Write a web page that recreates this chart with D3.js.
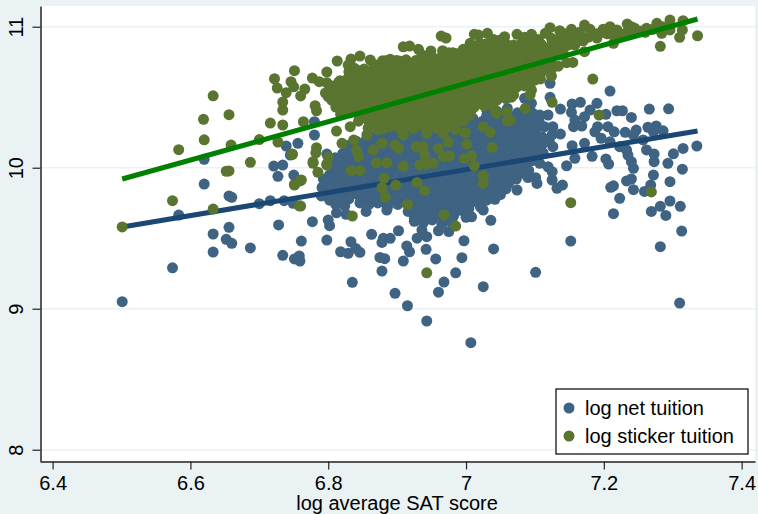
<!DOCTYPE html>
<html>
<head>
<meta charset="utf-8">
<script src="https://d3js.org/d3.v7.min.js"></script>
<style>
  html, body { margin: 0; padding: 0; background: #eaf2f3; }
  svg { display: block; }
  text { font-family: "Liberation Sans", Arial, sans-serif; fill: #000; }
</style>
</head>
<body>
<div id="chart"></div>
<script>
// values: [log average SAT, log tuition]
const xTicks = [6.4, 6.6, 6.8, 7, 7.2, 7.4];
const yTicks = [8, 9, 10, 11];
const legendLabels = ["log net tuition", "log sticker tuition"];

const fitSat = [6.501, 7.336];
const netFit = [9.58, 10.26];
const stickerFit = [9.92, 11.055];

const netPoints = [
  // left side and outliers
  [6.501,9.05],[6.574,9.29],[6.583,9.664],[6.62,10.06],[6.62,9.884],[6.633,9.53],[6.633,9.402],[6.656,9.577],
  [6.652,9.492],[6.66,9.464],[6.656,9.80],[6.66,9.79],[6.687,9.431],[6.70,9.745],[6.716,9.766],[6.736,9.766],
  [6.749,9.748],[6.728,9.594],[6.761,9.48],[6.734,9.379],[6.751,9.353],[6.758,9.374],[6.759,9.338],[6.721,10.012],
  [6.734,10.019],[6.727,9.939],[6.75,9.948],[6.739,10.154],[6.756,10.173],[6.745,10.09],[6.78,10.232],[6.78,10.326],
  [6.798,10.097],[6.798,9.487],[6.777,9.617],[6.802,9.589],[6.80,9.629],[6.833,9.475],[6.818,9.404],[6.829,9.393],
  [6.84,9.428],[6.846,9.40],[6.835,9.187],[6.863,9.528],[6.878,9.47],[6.88,9.499],[6.89,9.499],[6.902,9.553],
  [6.875,9.364],[6.882,9.355],[6.878,9.267],[6.909,9.338],[6.914,9.445],[6.918,9.404],[6.897,9.109],[6.915,9.021],
  [6.943,8.913],[7.007,8.759],[6.96,9.117],[6.968,9.189],[6.985,9.255],[6.956,9.353],[6.942,9.421],[6.994,9.362],
  [6.997,9.482],[7.025,9.156],[7.04,9.424],[7.036,9.627],[7.025,9.70],[7.042,9.776],[6.929,9.50],[6.943,9.511],
  [6.96,9.553],[6.975,9.547],[7.008,9.652],[7.0,9.648],[6.936,9.558],
  // right side
  [7.152,9.48],[7.101,9.258],[7.31,9.04],[7.282,9.44],[7.313,9.551],[7.214,9.674],[7.223,9.783],[7.269,9.69],
  [7.282,9.726],[7.296,9.764],[7.311,9.726],[7.29,9.662],[7.243,9.844],[7.259,9.832],[7.268,9.877],[7.296,9.901],
  [7.272,9.948],[7.314,9.99],[7.293,10.031],[7.273,10.043],[7.273,10.097],[7.301,10.099],[7.315,10.137],[7.335,10.154],
  [7.262,10.126],[7.21,9.861],[7.214,9.872],[7.233,9.906],[7.24,9.92],[7.243,9.996],[7.24,10.043],[7.235,10.09],
  [7.203,10.062],[7.207,10.026],[7.183,10.081],[7.172,10.173],[7.154,10.156],[7.146,10.014],[7.14,9.877],[7.132,9.854],
  [7.125,9.913],[7.101,9.929],[7.103,9.889],[7.074,9.842],[7.125,9.972],[7.137,10.239],[7.209,10.544],[7.122,10.599],
  [7.122,10.499],[7.137,10.416],[7.154,10.452],[7.166,10.464],[7.19,10.457],[7.153,10.393],[7.18,10.409],[7.172,10.362],
  [7.158,10.338],[7.156,10.291],[7.168,10.296],[7.203,10.379],[7.219,10.404],[7.227,10.404],[7.24,10.357],[7.266,10.416],
  [7.294,10.418],[7.206,10.291],[7.191,10.291],[7.187,10.255],[7.196,10.209],[7.215,10.255],[7.231,10.251],[7.247,10.267],
  [7.243,10.232],[7.264,10.287],[7.276,10.296],[7.272,10.255],[7.286,10.262],[7.257,10.197],[7.209,10.184],[7.223,10.149],
  [7.233,10.126],[7.158,10.067],[7.126,10.291],[7.114,10.291],[7.119,10.374],[7.107,10.374],[7.085,10.492],[7.095,10.457],
  [7.097,10.386],[7.078,10.338],[7.092,10.326],[7.087,10.28],[7.074,10.267],[7.102,10.28],[7.121,10.184],[7.126,10.149],
  [7.1,10.184],[7.097,10.149],[7.075,10.149],[7.069,10.113],[7.093,10.078],[7.107,10.031],[7.119,10.007],[7.083,10.007],
  [7.112,10.104],[7.11,10.22],[7.125,10.235],[7.105,10.12],[7.088,10.05],[7.075,9.97],[7.09,9.93],[7.06,9.88],
  // dense core
  [7.03,10.41],[7.045,10.40],[7.06,10.42],[7.075,10.39],[7.09,10.40],
  [6.997,10.34],[7.01,10.35],[7.024,10.33],[7.038,10.34],[7.051,10.35],[7.065,10.33],[7.078,10.34],[7.09,10.35],[7.106,10.33],
  [7.03,10.37],[7.044,10.37],[7.058,10.38],[7.072,10.37],[7.086,10.37],[7.1,10.36],
  [6.96,10.31],[6.974,10.31],[6.988,10.32],[7.002,10.31],[7.016,10.31],[7.03,10.30],[7.044,10.31],[7.058,10.31],[7.072,10.30],[7.086,10.31],[7.1,10.31],
  [6.93,10.28],[6.944,10.29],[6.957,10.27],[6.97,10.28],[6.983,10.29],[6.996,10.27],[7.01,10.28],[7.023,10.29],[7.036,10.27],[7.05,10.28],[7.063,10.29],[7.076,10.27],[7.09,10.28],
  [6.875,10.25],[6.889,10.25],[6.903,10.26],[6.917,10.25],[6.931,10.25],[6.945,10.24],[6.959,10.25],[6.973,10.25],[6.987,10.26],[7.001,10.25],[7.015,10.25],[7.029,10.24],[7.043,10.25],[7.057,10.25],[7.071,10.26],[7.085,10.25],[7.099,10.25],
  [6.866,10.22],[6.88,10.23],[6.893,10.21],[6.906,10.22],[6.92,10.23],[6.933,10.21],[6.946,10.22],[6.96,10.23],[6.973,10.21],[6.986,10.22],[7.0,10.23],[7.013,10.21],[7.026,10.22],[7.04,10.23],[7.053,10.21],[7.066,10.22],[7.08,10.23],[7.093,10.21],[7.106,10.22],
  [6.84,10.19],[6.854,10.19],[6.868,10.20],[6.882,10.19],[6.896,10.19],[6.91,10.18],[6.924,10.19],[6.938,10.19],[6.952,10.20],[6.966,10.19],[6.98,10.19],[6.994,10.18],[7.008,10.19],[7.022,10.19],[7.036,10.20],[7.05,10.19],[7.064,10.19],[7.078,10.18],[7.092,10.19],[7.106,10.19],
  [6.83,10.16],[6.844,10.17],[6.857,10.15],[6.87,10.16],[6.884,10.17],[6.897,10.15],[6.91,10.16],[6.924,10.17],[6.937,10.15],[6.95,10.16],[6.964,10.17],[6.977,10.15],[6.99,10.16],[7.004,10.17],[7.017,10.15],[7.03,10.16],[7.044,10.17],[7.057,10.15],[7.07,10.16],[7.084,10.17],[7.097,10.15],[7.11,10.16],
  [6.826,10.13],[6.84,10.13],[6.854,10.14],[6.868,10.13],[6.882,10.13],[6.896,10.12],[6.91,10.13],[6.924,10.13],[6.938,10.14],[6.952,10.13],[6.966,10.13],[6.98,10.12],[6.994,10.13],[7.008,10.13],[7.022,10.14],[7.036,10.13],[7.05,10.13],[7.064,10.12],[7.078,10.13],[7.092,10.13],[7.106,10.13],
  [6.821,10.10],[6.834,10.11],[6.848,10.09],[6.861,10.10],[6.874,10.11],[6.888,10.09],[6.901,10.10],[6.914,10.11],[6.928,10.09],[6.941,10.10],[6.954,10.11],[6.968,10.09],[6.981,10.10],[6.994,10.11],[7.008,10.09],[7.021,10.10],[7.034,10.11],[7.048,10.09],[7.061,10.10],[7.074,10.11],[7.088,10.09],[7.101,10.10],
  [6.81,10.07],[6.824,10.07],[6.838,10.08],[6.852,10.07],[6.866,10.07],[6.88,10.06],[6.894,10.07],[6.908,10.07],[6.922,10.08],[6.936,10.07],[6.95,10.07],[6.964,10.06],[6.978,10.07],[6.992,10.07],[7.006,10.08],[7.02,10.07],[7.034,10.07],[7.048,10.06],[7.062,10.07],[7.076,10.07],[7.09,10.08],[7.104,10.07],
  [6.803,10.04],[6.816,10.05],[6.83,10.03],[6.843,10.04],[6.856,10.05],[6.87,10.03],[6.883,10.04],[6.896,10.05],[6.91,10.03],[6.923,10.04],[6.936,10.05],[6.95,10.03],[6.963,10.04],[6.976,10.05],[6.99,10.03],[7.003,10.04],[7.016,10.05],[7.03,10.03],[7.043,10.04],[7.056,10.05],[7.07,10.03],[7.083,10.04],[7.096,10.05],
  [6.806,10.01],[6.82,10.01],[6.834,10.02],[6.848,10.01],[6.862,10.01],[6.876,10.0],[6.89,10.01],[6.904,10.01],[6.918,10.02],[6.932,10.01],[6.946,10.01],[6.96,10.0],[6.974,10.01],[6.988,10.01],[7.002,10.02],[7.016,10.01],[7.03,10.01],[7.044,10.0],[7.058,10.01],[7.072,10.01],[7.086,10.02],
  [6.811,9.98],[6.824,9.99],[6.838,9.97],[6.851,9.98],[6.864,9.99],[6.878,9.97],[6.891,9.98],[6.904,9.99],[6.918,9.97],[6.931,9.98],[6.944,9.99],[6.958,9.97],[6.971,9.98],[6.984,9.99],[6.998,9.97],[7.011,9.98],[7.024,9.99],[7.038,9.97],[7.051,9.98],[7.064,9.99],[7.078,9.97],[7.091,9.98],
  [6.802,9.95],[6.816,9.95],[6.83,9.96],[6.844,9.95],[6.858,9.95],[6.872,9.94],[6.886,9.95],[6.9,9.95],[6.914,9.96],[6.928,9.95],[6.942,9.95],[6.956,9.94],[6.97,9.95],[6.984,9.95],[6.998,9.96],[7.012,9.95],[7.026,9.95],[7.04,9.94],[7.054,9.95],[7.068,9.95],[7.082,9.96],
  [6.793,9.92],[6.806,9.93],[6.82,9.91],[6.833,9.92],[6.846,9.93],[6.86,9.91],[6.873,9.92],[6.886,9.93],[6.9,9.91],[6.913,9.92],[6.926,9.93],[6.94,9.91],[6.953,9.92],[6.966,9.93],[6.98,9.91],[6.993,9.92],[7.006,9.93],[7.02,9.91],[7.033,9.92],[7.046,9.93],[7.06,9.91],[7.073,9.92],
  [6.796,9.89],[6.81,9.89],[6.824,9.90],[6.838,9.89],[6.852,9.89],[6.866,9.88],[6.88,9.89],[6.894,9.89],[6.908,9.90],[6.922,9.89],[6.936,9.89],[6.95,9.88],[6.964,9.89],[6.978,9.89],[6.992,9.90],[7.006,9.89],[7.02,9.89],[7.034,9.88],[7.048,9.89],[7.062,9.89],
  [6.791,9.86],[6.804,9.87],[6.818,9.85],[6.831,9.86],[6.844,9.87],[6.858,9.85],[6.871,9.86],[6.884,9.87],[6.898,9.85],[6.911,9.86],[6.924,9.87],[6.938,9.85],[6.951,9.86],[6.964,9.87],[6.978,9.85],[6.991,9.86],[7.004,9.87],[7.018,9.85],[7.031,9.86],[7.044,9.87],[7.058,9.85],
  [6.798,9.83],[6.812,9.83],[6.826,9.84],[6.84,9.83],[6.854,9.83],[6.868,9.82],[6.882,9.83],[6.896,9.83],[6.91,9.84],[6.924,9.83],[6.938,9.83],[6.952,9.82],[6.966,9.83],[6.98,9.83],[6.994,9.84],[7.008,9.83],[7.022,9.83],[7.036,9.82],[7.05,9.83],
  [6.79,9.80],[6.803,9.81],[6.817,9.79],[6.83,9.80],[6.843,9.81],[6.857,9.79],[6.87,9.80],[6.883,9.81],[6.897,9.79],[6.91,9.80],[6.923,9.81],[6.937,9.79],[6.95,9.80],[6.963,9.81],[6.977,9.79],[6.99,9.80],[7.003,9.81],[7.017,9.79],[7.03,9.80],[7.05,9.81],
  [6.802,9.77],[6.816,9.77],[6.83,9.78],[6.848,9.77],[6.862,9.77],[6.876,9.76],[6.89,9.77],[6.904,9.77],[6.918,9.78],[6.932,9.77],[6.946,9.77],[6.96,9.76],[6.974,9.77],[6.988,9.77],[7.002,9.78],[7.016,9.77],[7.03,9.77],
  [6.811,9.74],[6.824,9.73],[6.846,9.75],[6.859,9.74],[6.872,9.75],[6.886,9.72],[6.901,9.74],[6.914,9.75],[6.927,9.73],[6.941,9.72],[6.954,9.74],[6.967,9.75],[6.981,9.72],[6.994,9.74],[7.007,9.75],[7.021,9.72],
  [6.92,9.71],[6.934,9.70],[6.948,9.71],[6.962,9.70],[6.976,9.71],[6.99,9.70],[7.004,9.71],
  [6.812,9.68],[6.826,9.67],[6.855,9.69],[6.885,9.70],[6.916,9.69],[6.929,9.66],[6.942,9.68],[6.955,9.67],[6.968,9.68],[6.982,9.66],[6.997,9.69],
  [6.925,9.64],[6.938,9.64],[6.952,9.65],[6.966,9.64],[6.98,9.64],
  [6.925,9.62],[6.938,9.61],[6.951,9.63],[6.965,9.60],[6.978,9.62]
];

const stickerPoints = [
  // left side
  [6.501,9.58],[6.574,9.766],[6.583,10.128],[6.62,10.198],[6.633,10.51],[6.619,10.343],[6.656,10.376],[6.659,10.161],
  [6.687,10.038],[6.652,9.975],[6.656,9.977],[6.70,10.20],[6.716,10.317],[6.722,10.631],[6.726,10.565],[6.734,10.466],
  [6.734,10.409],[6.734,10.303],[6.727,10.182],[6.633,9.707],[6.748,10.097],[6.751,9.877],[6.759,9.906],[6.758,9.73],
  [6.751,10.688],[6.746,10.61],[6.739,10.532],[6.75,10.574],[6.76,10.509],[6.766,10.558],[6.777,10.636],[6.787,10.61],
  [6.798,10.679],[6.798,10.603],[6.781,10.44],[6.783,10.404],[6.764,10.326],[6.813,10.757],[6.817,10.617],[6.833,10.771],
  [6.829,10.728],[6.846,10.792],[6.861,10.764],[6.879,10.759],[6.89,10.769],[6.903,10.757],[6.919,10.733],[6.909,10.858],
  [6.918,10.863],[6.931,10.84],[6.936,10.80],[6.949,10.828],[6.964,10.934],[6.971,10.92],[6.966,10.83],[6.981,10.816],
  [6.996,10.823],[7.006,10.882],[7.012,10.946],[7.018,10.941],[7.031,10.953],[7.02,10.882],[7.04,10.91],[7.056,10.929],
  [7.05,10.906],[7.074,10.946],[7.069,10.87],
  // top right band
  [7.095,10.946],[7.085,10.925],[7.122,10.993],[7.115,10.953],[7.136,10.972],[7.136,10.918],[7.124,10.918],[7.153,10.982],
  [7.172,11.012],[7.158,10.929],[7.18,10.982],[7.177,10.925],[7.199,10.982],[7.209,11.0],[7.219,10.977],[7.234,11.019],
  [7.231,10.953],[7.245,10.989],[7.262,10.989],[7.277,11.024],[7.296,11.047],[7.315,11.043],[7.284,10.953],[7.296,10.977],
  [7.314,10.977],[7.31,10.925],[7.336,10.936],[7.282,10.861],[7.184,10.629],[7.214,10.882],[7.172,10.823],[7.158,10.87],
  [7.141,10.835],[7.146,10.745],[7.155,10.747],[7.124,10.698],[7.124,10.65],[7.193,10.374],[7.125,10.464],[7.086,10.421],
  [7.064,10.338],[7.1,10.622],[7.083,10.622],[7.095,10.551],[7.093,10.516],[7.069,10.516],[7.074,10.574],
  [7.145,10.95],[7.165,10.96],[7.19,10.95],[7.205,10.95],[7.24,11.0],[7.255,10.97],[7.27,10.98],[7.285,11.0],[7.26,10.96],
  [7.105,10.91],[7.14,10.89],[7.15,10.91],[7.17,10.90],[7.19,10.92],[7.22,10.93],[7.245,10.96],[7.2,10.96],[7.215,10.94],
  [7.165,10.94],[7.125,10.88],[7.108,10.88],[7.148,10.87],[7.135,10.86],
  // scattered low
  [6.778,10.031],[6.798,10.019],[6.785,9.968],[6.761,9.913],[6.751,9.882],[6.76,9.728],[6.833,9.979],[6.846,9.979],
  [6.835,9.657],[6.87,10.035],[6.885,10.035],[6.909,10.012],[6.881,9.925],[6.878,9.858],[6.898,9.877],[6.883,9.79],
  [6.929,9.896],[6.94,9.837],[6.915,9.74],[6.968,9.665],[6.985,9.586],[6.943,9.255],[6.933,10.019],[6.943,10.026],
  [6.952,10.031],[7.012,10.014],[7.025,9.943],[7.025,9.889],[7.152,9.752],[7.269,9.828],
  [6.812,10.26],[6.82,10.173],[6.837,10.196],[6.856,10.232],[6.841,10.126],[6.748,10.095],[6.783,10.142],[6.782,10.106],
  [6.778,10.043],[6.80,10.074],[6.798,10.026],[6.844,10.078],[6.865,10.126],[6.878,10.173],[6.897,10.161],[6.902,10.137],
  [6.928,10.149],[6.938,10.149],[6.94,10.09],[6.96,10.137],[6.974,10.184],[6.967,10.078],[6.976,10.085],[7.001,10.166],
  [6.999,10.248],[6.998,10.067],[7.008,10.085],[7.038,10.145],[7.025,10.291],[7.035,10.251],[7.041,10.414],
  [7.044,10.386],[7.059,10.397],[7.06,10.333],[7.011,10.433],[6.88,10.28],[6.832,10.291],[6.909,10.232],[6.924,10.28],
  [6.943,10.244],[6.957,10.28],[6.967,10.244],[6.982,10.315],
  // dense core
  [7.03,10.88],[7.044,10.89],[7.06,10.87],[7.08,10.88],[7.096,10.89],[7.11,10.87],
  [6.996,10.84],[7.01,10.85],[7.022,10.83],[7.036,10.84],[7.05,10.85],[7.062,10.83],[7.076,10.84],[7.09,10.85],[7.102,10.83],[7.116,10.84],[7.13,10.85],
  [6.975,10.815],[6.989,10.81],[7.003,10.82],[7.017,10.815],[7.031,10.81],[7.045,10.82],[7.059,10.815],[7.073,10.81],[7.087,10.82],[7.101,10.815],[7.115,10.81],[7.129,10.82],
  [6.95,10.79],[6.963,10.78],[6.976,10.80],[6.99,10.79],[7.003,10.78],[7.016,10.80],[7.03,10.79],[7.043,10.78],[7.056,10.80],[7.07,10.79],[7.083,10.78],[7.096,10.80],[7.11,10.79],[7.123,10.78],[7.136,10.80],
  [6.885,10.76],[6.899,10.76],[6.913,10.765],[6.927,10.76],[6.941,10.755],[6.955,10.76],[6.969,10.76],[6.983,10.765],[6.997,10.76],[7.011,10.755],[7.025,10.76],[7.039,10.76],[7.053,10.765],[7.067,10.76],[7.081,10.755],[7.095,10.76],[7.109,10.76],[7.123,10.76],
  [6.868,10.73],[6.882,10.74],[6.894,10.72],[6.908,10.73],[6.922,10.74],[6.934,10.72],[6.948,10.73],[6.962,10.74],[6.974,10.72],[6.988,10.73],[7.002,10.74],[7.014,10.72],[7.028,10.73],[7.042,10.74],[7.054,10.72],[7.068,10.73],[7.082,10.74],[7.094,10.72],[7.108,10.73],[7.122,10.74],[7.134,10.72],
  [6.838,10.705],[6.852,10.70],[6.866,10.71],[6.88,10.705],[6.894,10.70],[6.908,10.71],[6.922,10.705],[6.936,10.70],[6.95,10.71],[6.964,10.705],[6.978,10.70],[6.992,10.71],[7.006,10.705],[7.02,10.70],[7.034,10.71],[7.048,10.705],[7.062,10.70],[7.076,10.71],[7.09,10.705],[7.104,10.70],[7.118,10.71],
  [6.83,10.68],[6.843,10.69],[6.856,10.67],[6.87,10.68],[6.883,10.69],[6.896,10.67],[6.91,10.68],[6.923,10.69],[6.936,10.67],[6.95,10.68],[6.963,10.69],[6.976,10.67],[6.99,10.68],[7.003,10.69],[7.016,10.67],[7.03,10.68],[7.043,10.69],[7.056,10.67],[7.07,10.68],[7.083,10.69],[7.096,10.67],[7.11,10.68],
  [6.835,10.655],[6.849,10.65],[6.863,10.66],[6.877,10.655],[6.891,10.65],[6.905,10.66],[6.919,10.655],[6.933,10.65],[6.947,10.66],[6.961,10.655],[6.975,10.65],[6.989,10.66],[7.003,10.655],[7.017,10.65],[7.031,10.66],[7.045,10.655],[7.059,10.65],[7.073,10.66],[7.087,10.655],[7.101,10.65],
  [6.828,10.63],[6.842,10.64],[6.854,10.62],[6.868,10.63],[6.882,10.64],[6.894,10.62],[6.908,10.63],[6.922,10.64],[6.934,10.62],[6.948,10.63],[6.962,10.64],[6.974,10.62],[6.988,10.63],[7.002,10.64],[7.014,10.62],[7.028,10.63],[7.042,10.64],[7.054,10.62],[7.068,10.63],[7.082,10.64],[7.094,10.62],[7.108,10.63],
  [6.815,10.605],[6.829,10.60],[6.843,10.61],[6.857,10.605],[6.871,10.60],[6.885,10.61],[6.899,10.605],[6.913,10.60],[6.927,10.61],[6.941,10.605],[6.955,10.60],[6.969,10.61],[6.983,10.605],[6.997,10.60],[7.011,10.61],[7.025,10.605],[7.039,10.60],[7.053,10.61],[7.067,10.605],[7.081,10.60],[7.095,10.61],
  [6.805,10.58],[6.818,10.59],[6.832,10.57],[6.845,10.58],[6.858,10.59],[6.872,10.57],[6.885,10.58],[6.898,10.59],[6.912,10.57],[6.925,10.58],[6.938,10.59],[6.952,10.57],[6.965,10.58],[6.978,10.59],[6.992,10.57],[7.005,10.58],[7.018,10.59],[7.032,10.57],[7.045,10.58],[7.058,10.59],[7.072,10.57],[7.085,10.58],
  [6.802,10.555],[6.816,10.55],[6.83,10.56],[6.844,10.555],[6.858,10.55],[6.872,10.56],[6.886,10.555],[6.9,10.55],[6.914,10.56],[6.928,10.555],[6.942,10.55],[6.956,10.56],[6.97,10.555],[6.984,10.55],[6.998,10.56],[7.012,10.555],[7.026,10.55],[7.04,10.56],[7.054,10.555],[7.068,10.55],
  [6.796,10.53],[6.81,10.54],[6.823,10.52],[6.836,10.53],[6.85,10.54],[6.863,10.52],[6.876,10.53],[6.89,10.54],[6.903,10.52],[6.916,10.53],[6.93,10.54],[6.943,10.52],[6.956,10.53],[6.97,10.54],[6.983,10.52],[6.996,10.53],[7.01,10.54],[7.023,10.52],[7.036,10.53],[7.05,10.54],[7.063,10.52],
  [6.8,10.505],[6.814,10.50],[6.828,10.51],[6.842,10.505],[6.856,10.50],[6.87,10.51],[6.884,10.505],[6.898,10.50],[6.912,10.51],[6.926,10.505],[6.94,10.50],[6.954,10.51],[6.968,10.505],[6.982,10.50],[6.996,10.51],[7.01,10.505],[7.024,10.50],[7.038,10.51],[7.052,10.505],[7.066,10.50],
  [6.805,10.48],[6.818,10.49],[6.832,10.47],[6.845,10.48],[6.858,10.49],[6.872,10.47],[6.885,10.48],[6.898,10.49],[6.912,10.47],[6.925,10.48],[6.938,10.49],[6.952,10.47],[6.965,10.48],[6.978,10.49],[6.992,10.47],[7.005,10.48],[7.018,10.49],[7.032,10.47],[7.045,10.48],[7.058,10.49],
  [6.812,10.455],[6.826,10.45],[6.84,10.46],[6.854,10.455],[6.868,10.45],[6.882,10.46],[6.896,10.455],[6.91,10.45],[6.924,10.46],[6.938,10.455],[6.952,10.45],[6.966,10.46],[6.98,10.455],[6.994,10.45],[7.008,10.46],[7.022,10.455],[7.036,10.45],
  [6.811,10.43],[6.826,10.44],[6.839,10.42],[6.852,10.43],[6.866,10.44],[6.879,10.42],[6.892,10.43],[6.906,10.44],[6.919,10.42],[6.932,10.43],[6.946,10.44],[6.959,10.42],[6.972,10.43],[6.986,10.44],[6.999,10.42],[7.012,10.43],[7.026,10.44],
  [6.825,10.405],[6.839,10.40],[6.853,10.41],[6.867,10.405],[6.881,10.40],[6.895,10.41],[6.909,10.405],[6.923,10.40],[6.937,10.41],[6.951,10.405],[6.965,10.40],[6.979,10.41],[6.993,10.405],[7.007,10.40],
  [6.818,10.38],[6.832,10.39],[6.845,10.37],[6.858,10.38],[6.872,10.39],[6.885,10.37],[6.898,10.38],[6.912,10.39],[6.925,10.37],[6.938,10.38],[6.952,10.39],[6.965,10.37],[6.978,10.38],[6.992,10.39],[7.005,10.37],
  [6.85,10.355],[6.864,10.35],[6.878,10.36],[6.892,10.355],[6.906,10.35],[6.92,10.36],[6.934,10.355],[6.948,10.35],[6.962,10.36],[6.976,10.355],[6.99,10.35],
  [6.844,10.33],[6.858,10.34],[6.871,10.32],[6.884,10.33],[6.898,10.34],[6.911,10.32],[6.924,10.33],[6.938,10.34],[6.951,10.32],[6.964,10.33],[6.978,10.34],[6.996,10.33],
  [6.86,10.305],[6.874,10.30],[6.888,10.31],[6.902,10.305],[6.916,10.30],[6.93,10.31],[6.944,10.305],[6.958,10.30],[6.972,10.31],
  [6.858,10.28],[6.872,10.27],[6.89,10.29],[6.905,10.27],[6.94,10.29],[6.97,10.28],[6.985,10.27]
];

const width = 758, height = 514;

const svg = d3.select("#chart").append("svg")
  .attr("width", width)
  .attr("height", height);

svg.append("rect").attr("width", width).attr("height", height).attr("fill", "#eaf2f3");
svg.append("rect").attr("x", 40).attr("y", 6).attr("width", 715).attr("height", 455).attr("fill", "#fff");

const x = d3.scaleLinear().domain([6.3817, 7.4194]).range([40, 755]);
const y = d3.scaleLinear().domain([7.92, 11.147]).range([461, 6]);

// gridlines
svg.append("g").selectAll("line").data(yTicks).join("line")
  .attr("x1", 40).attr("x2", 755)
  .attr("y1", d => y(d)).attr("y2", d => y(d))
  .attr("stroke", "#eaf2f3").attr("stroke-width", 1.5);

// axes
const xAxis = svg.append("g").attr("transform", "translate(0,461.5)")
  .call(d3.axisBottom(x).tickValues(xTicks).tickFormat(d3.format("")).tickSize(8).tickSizeOuter(0).tickPadding(6));
const yAxis = svg.append("g").attr("transform", "translate(40.5,0)")
  .call(d3.axisLeft(y).tickValues(yTicks).tickFormat(d3.format("d")).tickSize(8).tickSizeOuter(0));

xAxis.selectAll("text").attr("font-size", 20).style("font-family", '"Liberation Sans", Arial, sans-serif');
yAxis.selectAll("text")
  .attr("font-size", 20)
  .style("font-family", '"Liberation Sans", Arial, sans-serif')
  .attr("x", 0).attr("dy", 0)
  .attr("text-anchor", "middle")
  .attr("transform", "translate(-18,0) rotate(-90)");
svg.selectAll(".domain").attr("stroke", "#222").attr("stroke-width", 1.5);
svg.selectAll(".tick line").attr("stroke", "#222").attr("stroke-width", 1.2);

svg.append("text")
  .attr("x", 397).attr("y", 510)
  .attr("text-anchor", "middle")
  .attr("font-size", 20)
  .text("log average SAT score");

const netColor = "#3f6382", stickerColor = "#5a7530";

function drawPoints(points, color) {
  svg.append("g").selectAll("circle").data(points).join("circle")
    .attr("cx", d => x(d[0]))
    .attr("cy", d => y(d[1]))
    .attr("r", 5.5)
    .attr("fill", color);
}

function drawFit(fit, color) {
  svg.append("line")
    .attr("x1", x(fitSat[0])).attr("x2", x(fitSat[1]))
    .attr("y1", y(fit[0])).attr("y2", y(fit[1]))
    .attr("stroke", color).attr("stroke-width", 5);
}

drawPoints(netPoints, netColor);
drawFit(netFit, "#1a4773");
drawPoints(stickerPoints, stickerColor);
drawFit(stickerFit, "#008000");

// legend
const legend = svg.append("g");
legend.append("rect")
  .attr("x", 556).attr("y", 389).attr("width", 192).attr("height", 65)
  .attr("fill", "#fff").attr("stroke", "#000").attr("stroke-width", 1.2);
legendLabels.forEach(function (label, i) {
  const ly = 408 + i * 28;
  legend.append("circle").attr("cx", 569).attr("cy", ly).attr("r", 5.5)
    .attr("fill", i == 0 ? netColor : stickerColor);
  legend.append("text").attr("x", 585).attr("y", ly + 7).attr("font-size", 20).text(label);
});
</script>
</body>
</html>
